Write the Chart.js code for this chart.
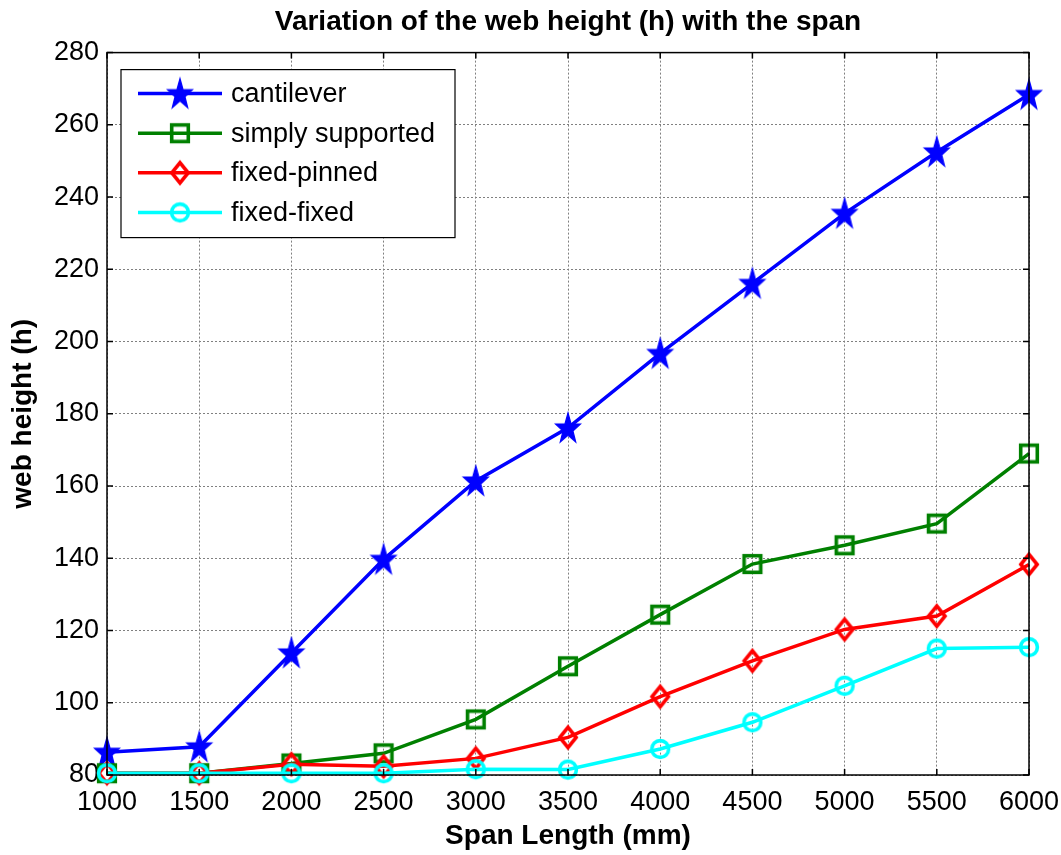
<!DOCTYPE html>
<html>
<head>
<meta charset="utf-8">
<script src="https://cdn.jsdelivr.net/npm/chart.js@4.4.0/dist/chart.umd.min.js"></script>
<style>
html,body{margin:0;padding:0;background:#fff;}
#wrap{width:1061px;height:855px;position:relative;}
</style>
</head>
<body>
<div id="wrap"><canvas id="c"></canvas></div>
<script>
// ---- data ----
const spans = [1000, 1500, 2000, 2500, 3000, 3500, 4000, 4500, 5000, 5500, 6000];
const cantilever      = [86.3, 87.8, 113.8, 139.7, 161.4, 176.1, 196.7, 216.1, 235.5, 252.5, 268.4];
const simplySupported = [80.5, 80.5, 83.2, 86.0, 95.4, 110.1, 124.4, 138.4, 143.6, 149.6, 169.0];
const fixedPinned     = [80.5, 80.5, 83.0, 82.4, 84.6, 90.4, 101.7, 111.6, 120.3, 124.0, 138.3];
const fixedFixed      = [80.5, 80.5, 80.5, 80.5, 81.6, 81.5, 87.2, 94.6, 104.7, 115.0, 115.4];
const seriesNames = ['cantilever', 'simply supported', 'fixed-pinned', 'fixed-fixed'];
const seriesColors = ['#0000FF', '#008000', '#FF0000', '#00FFFF'];
const seriesMarkers = ['star', 'square', 'diamond', 'circle'];
const xTickValues = [1000, 1500, 2000, 2500, 3000, 3500, 4000, 4500, 5000, 5500, 6000];
const yTickValues = [80, 100, 120, 140, 160, 180, 200, 220, 240, 260, 280];
const titleText = 'Variation of the web height (h) with the span';
const xTitle = 'Span Length (mm)';
const yTitle = 'web height (h)';

const FONT = "'Liberation Sans', Arial, Helvetica, sans-serif";

function markerCanvas(kind, color) {
  const S = 44;
  const c = document.createElement('canvas');
  c.width = S; c.height = S;
  const g = c.getContext('2d');
  g.translate(S / 2, S / 2);
  g.strokeStyle = color; g.fillStyle = color;
  g.lineWidth = 3.6;
  if (kind === 'star') {
    const R = 16, r = 6.3, sx = 0.82, sy = 1.0;
    g.beginPath();
    for (let i = 0; i < 10; i++) {
      const a = i * Math.PI / 5;
      const rr = (i % 2 === 0) ? R : r;
      const px = rr * Math.sin(a) * sx, py = -rr * Math.cos(a) * sy + 1;
      if (i === 0) g.moveTo(px, py); else g.lineTo(px, py);
    }
    g.closePath();
    g.fill();
    g.lineWidth = 1.2; g.stroke();
  } else if (kind === 'square') {
    g.strokeRect(-8.3, -8.3, 16.6, 16.6);
  } else if (kind === 'diamond') {
    g.beginPath();
    g.moveTo(0, -10.2); g.lineTo(8.2, 0); g.lineTo(0, 10.2); g.lineTo(-8.2, 0);
    g.closePath(); g.stroke();
  } else {
    g.beginPath(); g.arc(0, 0, 8.4, 0, Math.PI * 2); g.stroke();
  }
  return c;
}

const seriesValues = [cantilever, simplySupported, fixedPinned, fixedFixed];
const markers = seriesMarkers.map((m, i) => markerCanvas(m, seriesColors[i]));

const datasets = seriesNames.map((name, i) => ({
  label: name,
  data: spans.map((x, j) => ({x: x, y: seriesValues[i][j]})),
  borderColor: seriesColors[i],
  backgroundColor: seriesColors[i],
  borderWidth: 3.5,
  pointStyle: markers[i],
  pointRadius: 10,
  tension: 0,
  clip: false,
  order: seriesNames.length - 1 - i
}));

const boxPlugin = {
  id: 'matlabBox',
  afterDraw(chart) {
    const ctx = chart.ctx;
    const a = chart.chartArea;
    const xs = chart.scales.x, ys = chart.scales.y;
    ctx.save();
    ctx.strokeStyle = '#000';
    ctx.lineWidth = 1.5;
    ctx.strokeRect(a.left, a.top, a.right - a.left, a.bottom - a.top);
    const tl = 6;
    ctx.beginPath();
    xTickValues.forEach(v => {
      const p = xs.getPixelForValue(v);
      ctx.moveTo(p, a.bottom); ctx.lineTo(p, a.bottom - tl);
      ctx.moveTo(p, a.top); ctx.lineTo(p, a.top + tl);
    });
    yTickValues.forEach(v => {
      const p = ys.getPixelForValue(v);
      ctx.moveTo(a.left, p); ctx.lineTo(a.left + tl, p);
      ctx.moveTo(a.right, p); ctx.lineTo(a.right - tl, p);
    });
    ctx.stroke();

    // legend box
    const bx = a.left + 14, by = a.top + 17, bw = 334, bh = 168;
    ctx.fillStyle = '#fff';
    ctx.fillRect(bx, by, bw, bh);
    ctx.lineWidth = 1.2;
    ctx.strokeStyle = '#000';
    ctx.strokeRect(bx, by, bw, bh);
    ctx.font = '27px ' + FONT;
    ctx.textBaseline = 'middle';
    ctx.textAlign = 'left';
    chart.data.datasets.forEach((ds, i) => {
      const y = by + 24 + i * 39.6;
      ctx.strokeStyle = ds.borderColor;
      ctx.lineWidth = 3.5;
      ctx.beginPath();
      ctx.moveTo(bx + 17, y); ctx.lineTo(bx + 101, y);
      ctx.stroke();
      const m = ds.pointStyle;
      ctx.drawImage(m, bx + 59 - m.width / 2, y - m.height / 2);
      ctx.fillStyle = '#000';
      ctx.fillText(ds.label, bx + 110, y + 1);
    });
    ctx.restore();
  }
};

new Chart(document.getElementById('c'), {
  type: 'line',
  data: {datasets: datasets},
  options: {
    responsive: true,
    maintainAspectRatio: false,
    animation: false,
    devicePixelRatio: 1,
    layout: {padding: {left: 0, right: 32, top: 0, bottom: 0}},
    plugins: {
      legend: {display: false},
      tooltip: {enabled: false},
      title: {
        display: true,
        fullSize: false,
        text: titleText,
        color: '#000',
        font: {family: FONT, size: 28, weight: 'bold'},
        padding: {top: 5, bottom: 14}
      }
    },
    scales: {
      x: {
        type: 'linear',
        min: xTickValues[0],
        max: xTickValues[xTickValues.length - 1],
        afterBuildTicks: s => { s.ticks = xTickValues.map(v => ({value: v})); },
        afterFit: s => { s.height = 80; s.paddingRight = 0; s.paddingLeft = 0; },
        ticks: {color: '#000', font: {family: FONT, size: 27}, padding: 11, maxRotation: 0, autoSkip: false,
                callback: v => String(v)},
        grid: {color: '#808080', lineWidth: 1, drawTicks: false},
        border: {display: false, dash: [2, 2]},
        title: {display: true, text: xTitle, color: '#000',
                font: {family: FONT, size: 28, weight: 'bold'}, padding: {top: 0, bottom: 2}}
      },
      y: {
        type: 'linear',
        min: yTickValues[0],
        max: yTickValues[yTickValues.length - 1],
        afterBuildTicks: s => { s.ticks = yTickValues.map(v => ({value: v})); },
        afterFit: s => { s.width = 107; },
        ticks: {color: '#000', font: {family: FONT, size: 27}, padding: 8, autoSkip: false,
                callback: v => String(v)},
        grid: {color: '#808080', lineWidth: 1, drawTicks: false},
        border: {display: false, dash: [2, 2]},
        title: {display: true, text: yTitle, color: '#000',
                font: {family: FONT, size: 28, weight: 'bold'}, padding: {top: 6, bottom: 0}}
      }
    }
  },
  plugins: [boxPlugin]
});
</script>
</body>
</html>
